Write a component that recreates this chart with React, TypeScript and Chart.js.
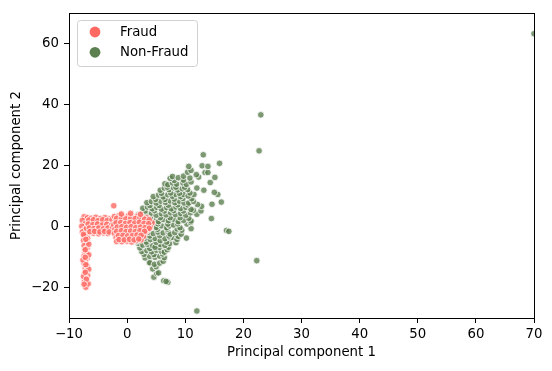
import React, { useEffect, useRef } from "react";
import { Chart, registerables } from "chart.js";

Chart.register(...registerables);

// ---- Data ----
const seriesNames = ["Fraud", "Non-Fraud"];
const seriesColors = ["rgb(255,105,97)", "rgb(92,128,80)"];
const seriesFill = ["rgba(255,105,97,0.8)", "rgba(92,128,80,0.8)"];

const fraudPoints: [number, number][] = [
  // vertical strip near x = -7
  [-7.4, 3.2], [-6.8, 2.9], [-7.7, 2.0], [-6.6, 1.6], [-7.2, 0.9], [-7.8, 0.1], [-6.7, -0.2],
  [-7.3, -1.0], [-7.7, -1.8], [-6.9, -2.2], [-7.4, -3.1], [-6.8, -3.9], [-7.5, -4.6], [-7.0, -5.4],
  [-7.4, -6.3], [-6.9, -7.1], [-7.3, -8.0], [-7.0, -8.8], [-7.4, -9.7], [-6.9, -10.5], [-7.2, -11.3],
  [-7.4, -12.1], [-6.9, -12.9], [-7.2, -13.8], [-7.0, -14.6], [-7.3, -15.4], [-6.8, -16.1],
  [-7.1, -16.9], [-7.3, -17.7], [-7.0, -18.5], [-7.2, -19.3], [-7.1, -19.9], [-6.6, -5.8],
  [-6.6, -9.3], [-7.6, -11.0], [-6.6, -14.0], [-7.5, -16.4], [-6.7, -18.8],
  [-7.0, -0.6], [-7.5, -2.6], [-7.1, -4.2], [-7.2, -7.6], [-7.2, -10.1], [-7.1, -12.5],
  [-7.2, -15.0], [-7.0, -17.3], [-7.4, -18.9],
  // left part of the band
  [-6.2, 2.7], [-5.4, 3.0], [-4.6, 2.6], [-3.8, 2.9], [-3.0, 2.5],
  [-6.0, 1.3], [-5.1, 1.6], [-4.3, 1.1], [-3.5, 1.5], [-2.7, 1.2],
  [-6.3, 0.1], [-5.5, -0.2], [-4.7, 0.3], [-3.9, -0.1], [-3.1, 0.2],
  [-6.1, -1.1], [-5.2, -1.4], [-4.4, -1.0], [-3.6, -1.3], [-2.8, -1.0],
  [-5.8, -2.2], [-4.9, -2.4], [-4.1, -2.1], [-3.3, -2.3],
  [-6.6, 2.1], [-5.8, 2.2], [-5.0, 1.9], [-4.2, 2.2], [-3.4, 2.0], [-2.6, 2.3],
  [-6.7, 0.8], [-5.9, 0.6], [-5.1, 0.8], [-4.3, 0.5], [-3.5, 0.7], [-2.7, 0.4],
  [-6.5, -0.5], [-5.7, -0.7], [-4.9, -0.5], [-4.1, -0.8], [-3.3, -0.5], [-2.5, -0.3],
  [-6.4, -1.7], [-5.6, -1.6], [-4.7, -1.8], [-3.9, -1.6], [-3.1, -1.8],
  // right blob of the band
  [-2.2, 3.3], [-1.4, 3.6], [-0.6, 3.2], [0.2, 3.5], [1.0, 3.1], [1.8, 3.4], [2.6, 3.0], [3.4, 2.8],
  [-2.0, 1.9], [-1.2, 2.1], [-0.4, 1.7], [0.4, 2.0], [1.2, 1.8], [2.0, 2.2], [2.8, 1.7], [3.6, 1.6], [4.3, 1.2],
  [-2.3, 0.5], [-1.5, 0.7], [-0.7, 0.3], [0.1, 0.6], [0.9, 0.4], [1.7, 0.7], [2.5, 0.3], [3.3, 0.4], [4.0, -0.2],
  [-2.1, -0.9], [-1.3, -0.6], [-0.5, -1.0], [0.3, -0.8], [1.1, -1.1], [1.9, -0.7], [2.7, -1.0], [3.5, -1.2],
  [-2.2, -2.3], [-1.4, -2.1], [-0.6, -2.5], [0.2, -2.2], [1.0, -2.4], [1.8, -2.0], [2.6, -2.3], [3.1, -2.0],
  [-1.9, -3.7], [-1.1, -3.5], [-0.3, -3.9], [0.5, -3.6], [1.3, -3.8], [2.1, -3.4], [2.8, -3.3],
  [-1.8, -4.9], [-0.9, -5.0], [0.0, -4.8], [0.8, -5.1], [1.6, -4.6], [2.4, -4.4],
  [-1.8, 2.7], [-1.0, 2.8], [-0.2, 2.5], [0.6, 2.7], [1.4, 2.6], [2.2, 2.8], [3.0, 2.4], [3.8, 2.2],
  [-1.9, 1.2], [-1.1, 1.3], [-0.3, 1.0], [0.5, 1.3], [1.3, 1.1], [2.1, 1.4], [2.9, 1.0], [3.7, 0.9],
  [-1.7, -0.2], [-0.9, -0.1], [-0.1, -0.3], [0.7, -0.1], [1.5, -0.4], [2.3, -0.2], [3.1, -0.4], [3.8, -0.6],
  [-1.8, -1.6], [-1.0, -1.4], [-0.2, -1.7], [0.6, -1.5], [1.4, -1.7], [2.2, -1.4], [3.0, -1.6],
  [-1.5, -3.0], [-0.7, -2.9], [0.1, -3.1], [0.9, -3.0], [1.7, -2.8], [2.4, -2.9],
  [-1.4, -4.3], [-0.5, -4.4], [0.4, -4.2], [1.2, -4.4], [2.0, -4.1],
  [0.6, 4.3], [-1.0, 4.1], [2.3, 4.0],
  [-2.3, 6.8],
];

const nonFraudPoints: [number, number][] = [
  [6.3, -17.8], [7.0, -18.3], [6.7, -18.0],
  [4.6, -16.6], [5.1, -15.4], [5.4, -15.2],
  [4.4, -13.9], [3.8, -11.8], [5.0, -13.2],
  [3.9, -11.9], [4.7, -12.4], [5.6, -12.0], [6.2, -11.4],
  [3.1, -10.3], [3.9, -9.8], [4.8, -10.1], [5.6, -9.7], [6.4, -10.2],
  [2.9, -9.1], [4.6, -9.2], [6.1, -9.0],
  [2.5, -8.2], [3.4, -7.9], [4.2, -8.3], [5.1, -7.8], [5.9, -8.1], [6.4, -8.4], [6.9, -7.6],
  [2.2, -7.0], [3.9, -7.2], [5.5, -6.9], [7.1, -6.8],
  [1.9, -5.5], [2.7, -6.1], [3.5, -5.8], [4.4, -6.3], [4.8, -6.8], [5.7, -5.9], [6.5, -6.2], [7.3, -5.6],
  [1.6, -4.8], [3.3, -5.1], [5.0, -5.2], [6.8, -5.1], [8.4, -5.3],
  [1.5, -3.3], [2.3, -4.1], [3.1, -3.8], [4.0, -4.3], [4.8, -3.9], [5.7, -4.6], [6.5, -4.0], [7.4, -3.7],
  [7.9, -3.6], [8.6, -4.2], [10.2, -3.8],
  [2.1, -3.0], [3.9, -3.1], [5.6, -3.0], [7.2, -3.1], [8.8, -3.2],
  [1.1, -2.0], [2.0, -1.7], [2.8, -2.2], [3.6, -1.9], [4.5, -2.3], [5.3, -1.8], [6.2, -2.1], [7.0, -1.6],
  [7.4, -2.5], [8.2, -2.0], [9.3, -2.5], [9.4, -1.2], [17.1, -1.3], [17.5, -1.6],
  [1.8, -0.9], [3.5, -0.9], [5.2, -0.9], [6.9, -0.9], [8.6, -0.8],
  [0.6, 0.2], [1.5, -0.1], [2.4, 0.3], [3.3, -0.2], [4.2, 0.4], [5.0, -0.3], [5.9, 0.2], [6.8, -0.4],
  [7.3, 0.2], [8.0, 0.5], [9.1, -0.4], [11.0, -0.7],
  [1.9, 0.9], [3.6, 0.8], [5.3, 0.9], [7.0, 0.8], [8.7, 0.9], [10.3, 0.8],
  [1.2, 2.3], [2.0, 1.8], [2.8, 2.2], [3.7, 1.7], [4.5, 2.1], [5.4, 1.6], [6.2, 2.3], [7.1, 1.9],
  [8.0, 2.4], [8.8, 1.6], [9.7, 2.0], [10.9, 1.3], [11.0, 1.8], [14.5, 2.6],
  [2.4, 2.9], [4.0, 2.8], [5.7, 2.9], [7.4, 2.9], [9.1, 2.9], [10.6, 2.7],
  [1.9, 3.8], [2.6, 4.3], [3.4, 3.9], [4.2, 4.4], [5.0, 3.7], [5.9, 4.2], [6.7, 3.8], [7.5, 4.5],
  [8.3, 3.9], [9.2, 4.3], [10.1, 3.7], [10.9, 4.5], [12.0, 4.0],
  [3.1, 5.1], [4.7, 5.2], [6.4, 5.1], [8.0, 5.2], [9.7, 5.1], [11.4, 5.3],
  [2.7, 6.0], [3.5, 6.4], [4.3, 5.8], [5.1, 6.3], [5.9, 5.7], [6.8, 6.2], [7.6, 5.8], [8.4, 6.4],
  [9.2, 5.9], [10.1, 6.3], [11.0, 5.6], [12.7, 5.1], [12.8, 6.6],
  [3.9, 6.9], [5.5, 6.9], [7.1, 7.0], [8.7, 7.1], [10.4, 7.1], [12.1, 7.2],
  [3.4, 7.8], [4.2, 8.2], [5.0, 7.7], [5.8, 8.3], [6.6, 7.9], [7.4, 8.4], [8.2, 7.8], [9.0, 8.3],
  [9.8, 7.7], [10.6, 7.7], [11.4, 8.2], [14.6, 7.3], [16.2, 8.0],
  [4.9, 8.9], [6.5, 8.9], [8.1, 9.0], [9.6, 9.2], [11.1, 9.1],
  [4.5, 9.8], [5.4, 10.3], [6.2, 9.7], [7.0, 10.4], [7.8, 9.9], [8.4, 10.5], [9.2, 9.8], [9.7, 10.5],
  [10.5, 10.0], [11.5, 10.5], [15.6, 10.5],
  [5.9, 10.9], [7.5, 11.0], [9.0, 10.9], [10.8, 11.0],
  [5.7, 11.9], [6.4, 12.6], [7.2, 12.1], [8.0, 12.7], [8.7, 12.0], [9.5, 12.4], [10.4, 12.1],
  [12.0, 12.6], [13.2, 11.9], [15.0, 11.2],
  [6.9, 12.9], [8.4, 12.9], [9.9, 12.9],
  [6.5, 14.0], [7.0, 13.7], [7.8, 14.3], [8.5, 13.9], [9.6, 14.3], [10.2, 13.8], [11.0, 14.6], [14.3, 14.4],
  [8.1, 15.1], [9.7, 15.2],
  [7.4, 15.8], [7.8, 16.4], [8.8, 16.0], [9.7, 16.5], [10.8, 15.9], [12.3, 16.2], [15.1, 16.1],
  [10.4, 17.8], [11.0, 18.4], [11.9, 17.0], [13.4, 17.7], [13.9, 17.7],
  [10.6, 19.7], [12.9, 19.9], [13.9, 19.7], [15.9, 20.7],
  [13.1, 23.5],
  [22.3, -11.2], [12.0, -27.7], [23.0, 36.6], [22.7, 24.8], [70.0, 63.2],
];

const xTicks = [-10, 0, 10, 20, 30, 40, 50, 60, 70];
const yTicks = [-20, 0, 20, 40, 60];
const xRange = [-10, 70];
const yRange = [-30, 70];
const xLabel = "Principal component 1";
const yLabel = "Principal component 2";

const FONT_FAMILY = "'DejaVu Sans', 'Liberation Sans', sans-serif";
const FONT_SIZE = 13.3;

const fmt = (v: number) => (v < 0 ? "\u2212" + Math.abs(v) : String(v));

const framePlugin = {
  id: "frameBox",
  afterDatasetsDraw(chart: any) {
    const { ctx, chartArea } = chart;
    ctx.save();
    ctx.strokeStyle = "#000";
    ctx.lineWidth = 1;
    const l = Math.round(chartArea.left);
    const t = Math.round(chartArea.top);
    const r = Math.round(chartArea.right);
    const b = Math.round(chartArea.bottom);
    ctx.strokeRect(l + 0.5, t + 0.5, r - l, b - t);
    ctx.restore();
  },
};

const legendPlugin = {
  id: "innerLegend",
  afterDraw(chart: any) {
    const { ctx, chartArea } = chart;
    const x = Math.round(chartArea.left) + 8;
    const y = Math.round(chartArea.top) + 7;
    const w = 120;
    const h = 46;
    ctx.save();
    ctx.beginPath();
    (ctx as any).roundRect(x + 0.5, y + 0.5, w, h, 3);
    ctx.fillStyle = "rgba(255,255,255,0.8)";
    ctx.fill();
    ctx.strokeStyle = "#d0d0d0";
    ctx.lineWidth = 1;
    ctx.stroke();
    seriesNames.forEach((name, i) => {
      const cy = y + 12 + i * 20.3;
      ctx.beginPath();
      ctx.arc(x + 18, cy, 5.4, 0, Math.PI * 2);
      ctx.fillStyle = seriesColors[i];
      ctx.fill();
      ctx.fillStyle = "#000";
      ctx.font = `${FONT_SIZE}px ${FONT_FAMILY}`;
      ctx.textBaseline = "middle";
      ctx.textAlign = "left";
      ctx.fillText(name, x + 43, cy + 0.5);
    });
    ctx.restore();
  },
};

export default function App() {
  const canvasRef = useRef<HTMLCanvasElement | null>(null);

  useEffect(() => {
    const canvas = canvasRef.current;
    if (!canvas) return;
    const chart = new Chart(canvas, {
      type: "scatter",
      data: {
        datasets: [
          {
            label: seriesNames[0],
            data: fraudPoints.map(([x, y]) => ({ x, y })),
            backgroundColor: seriesFill[0],
            borderColor: "rgba(255,255,255,0.8)",
            pointRadius: 3.3,
            pointBorderWidth: 1,
            clip: 0,
          },
          {
            label: seriesNames[1],
            data: nonFraudPoints.map(([x, y]) => ({ x, y })),
            backgroundColor: seriesFill[1],
            borderColor: "rgba(255,255,255,0.8)",
            pointRadius: 3.3,
            pointBorderWidth: 1,
            clip: 0,
          },
        ],
      },
      options: {
        animation: false,
        responsive: false,
        devicePixelRatio: 1,
        events: [],
        layout: { padding: { left: 0, top: 10, right: 18, bottom: 0 } },
        plugins: {
          legend: { display: false },
          tooltip: { enabled: false },
        },
        scales: {
          x: {
            type: "linear",
            position: "bottom",
            min: xRange[0],
            max: xRange[1],
            afterBuildTicks: (scale: any) => {
              scale.ticks = xTicks.map((v) => ({ value: v }));
            },
            afterFit: (scale: any) => {
              scale.height = 53;
            },
            grid: {
              display: true,
              drawOnChartArea: false,
              drawTicks: true,
              tickLength: 5,
              color: "#000",
              lineWidth: 1,
            },
            border: { display: false },
            ticks: {
              color: "#000",
              padding: 4,
              font: { family: FONT_FAMILY, size: FONT_SIZE },
              callback: (v: any) => fmt(Number(v)),
              maxRotation: 0,
            },
            title: {
              display: true,
              text: xLabel,
              color: "#000",
              font: { family: FONT_FAMILY, size: FONT_SIZE },
              padding: { top: 0, bottom: 10 },
            },
          },
          y: {
            type: "linear",
            position: "left",
            min: yRange[0],
            max: yRange[1],
            afterBuildTicks: (scale: any) => {
              scale.ticks = yTicks.map((v) => ({ value: v }));
            },
            afterFit: (scale: any) => {
              scale.width = 69;
            },
            grid: {
              display: true,
              drawOnChartArea: false,
              drawTicks: true,
              tickLength: 5,
              color: "#000",
              lineWidth: 1,
            },
            border: { display: false },
            ticks: {
              color: "#000",
              padding: 5,
              font: { family: FONT_FAMILY, size: FONT_SIZE },
              callback: (v: any) => fmt(Number(v)),
            },
            title: {
              display: true,
              text: yLabel,
              color: "#000",
              font: { family: FONT_FAMILY, size: FONT_SIZE },
              padding: { top: 9, bottom: 0 },
            },
          },
        },
      } as any,
      plugins: [framePlugin, legendPlugin],
    });
    return () => chart.destroy();
  }, []);

  return (
    <div style={{ position: "fixed", left: 0, top: 0, width: 552, height: 371, background: "#fff" }}>
      <canvas ref={canvasRef} width={552} height={371} style={{ display: "block", width: 552, height: 371 }} />
    </div>
  );
}
